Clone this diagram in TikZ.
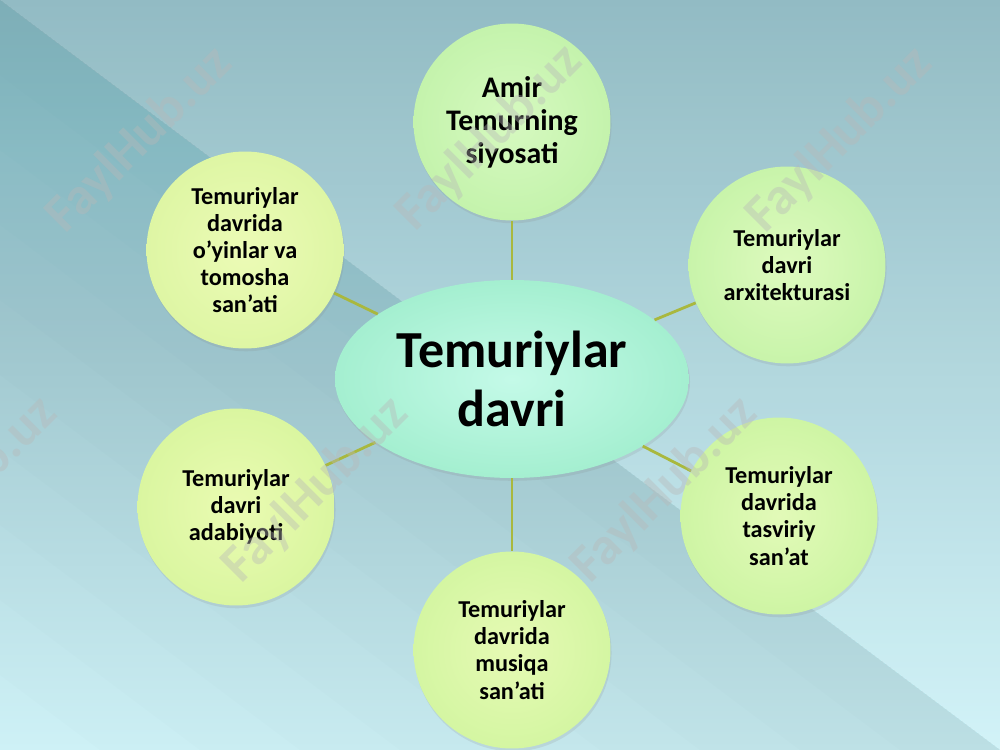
\documentclass[tikz,border=0pt]{standalone}
\usepackage{fontspec}
\setmainfont{Carlito}
\usetikzlibrary{shapes.geometric,shadows}
\definecolor{bgtop}{HTML}{8DB8C1}
\definecolor{bgbot}{HTML}{D0F3F8}
\definecolor{banddark}{HTML}{2E6F78}
\definecolor{linkcol}{HTML}{A9B83E}
\definecolor{ellin}{HTML}{C4FAE8}
\definecolor{ellout}{HTML}{A4EFD0}
\definecolor{wmcol}{HTML}{B8B8B8}
\definecolor{inA}{RGB}{214,249,192}\definecolor{outA}{RGB}{196,243,172}
\definecolor{inB}{RGB}{222,250,190}\definecolor{outB}{RGB}{200,244,170}
\definecolor{inC}{RGB}{226,250,184}\definecolor{outC}{RGB}{206,245,164}
\definecolor{inD}{RGB}{230,250,180}\definecolor{outD}{RGB}{212,246,162}
\definecolor{inE}{RGB}{234,251,178}\definecolor{outE}{RGB}{218,246,160}
\definecolor{inF}{RGB}{236,251,182}\definecolor{outF}{RGB}{222,246,164}
\tikzset{
  topicbox/.style={circle, minimum size=3.94cm, inner sep=0pt, align=center,
    text=black, font=\bfseries\fontsize{13.8}{15.4}\selectfont,
    drop shadow={opacity=0.16, shadow xshift=0.6pt, shadow yshift=-1.6pt}},
  centerbox/.style={ellipse, minimum width=7.08cm, minimum height=3.96cm, inner sep=0pt,
    align=center, text=black, inner color=ellin, outer color=ellout,
    font=\bfseries\fontsize{29.6}{34}\selectfont,
    drop shadow={opacity=0.16, shadow xshift=0.6pt, shadow yshift=-1.6pt}},
  link/.style={draw=linkcol, line width=1.6pt},
  wm/.style={rotate=45, text=wmcol, text opacity=0.40, font=\bfseries\fontsize{30}{30}\selectfont}
}
\begin{document}
\begin{tikzpicture}[x=0.02cm,y=-0.02cm]
% background
\shade[top color=bgtop, bottom color=bgbot] (0,0) rectangle (1000,750);
\begin{scope}
\clip (0,0) rectangle (1000,750);
\fill[white, fill opacity=0.05] (-800,-600) -- (1600,1200) -- (1600,-600) -- cycle;
\foreach \k in {1,...,10} {
  \pgfmathsetmacro\dd{60*\k}
  \fill[banddark, fill opacity=0.011] (-800,-600) -- (1600,1200)
     -- ({-0.6*\dd+1600},{0.8*\dd+1200}) -- ({-0.6*\dd-800},{0.8*\dd-600}) -- cycle;
}
\end{scope}
\useasboundingbox (0,0) rectangle (1000,750);

% nodes
\node[centerbox] (c) at (512,379) {Temuriylar\\davri};
\node[topicbox, inner color=inA, outer color=outA,
      font=\bfseries\fontsize{17}{18.8}\selectfont] (n1) at (512,122) {Amir\\Temurning\\siyosati};
\node[topicbox, inner color=inB, outer color=outB] (n2) at (787,265) {Temuriylar\\davri\\arxitekturasi};
\node[topicbox, inner color=inC, outer color=outC] (n3) at (779,516) {Temuriylar\\davrida\\tasviriy\\san’at};
\node[topicbox, inner color=inD, outer color=outD] (n4) at (512,650) {Temuriylar\\davrida\\musiqa\\san’ati};
\node[topicbox, inner color=inE, outer color=outE] (n5) at (236,507) {Temuriylar\\davri\\adabiyoti};
\node[topicbox, inner color=inF, outer color=outF] (n6) at (245,250) {Temuriylar\\davrida\\o’yinlar va\\tomosha\\san’ati};

% connectors
\foreach \n in {n1,n2,n3,n4,n5,n6} \draw[link] (c) -- (\n);

% watermarks
\node[wm] (w1) at (140,140) {FaylHub.uz};
\node[wm] (w2) at (490,138) {FaylHub.uz};
\node[wm] (w3) at (840,140) {FaylHub.uz};
\node[wm] (w4) at (-35,490) {FaylHub.uz};
\node[wm] (w5) at (316,490) {FaylHub.uz};
\node[wm] (w6) at (665,490) {FaylHub.uz};
\end{tikzpicture}
\end{document}
